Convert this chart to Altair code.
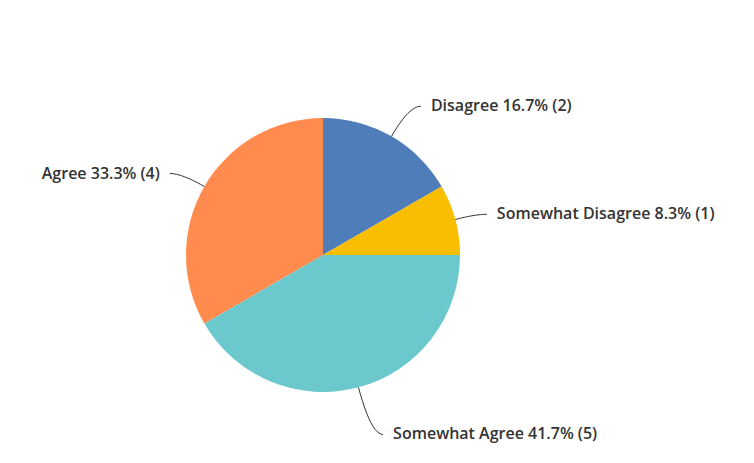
import math
import altair as alt
import pandas as pd

categories = ["Disagree", "Somewhat Disagree", "Somewhat Agree", "Agree"]
counts = [2, 1, 5, 4]
percents = ["16.7%", "8.3%", "41.7%", "33.3%"]
colors = ["#4f7dba", "#f9be00", "#6bc8cd", "#ff8b4f"]

W, H = 738, 447
CX, CY, R = 315, 247, 137

total = sum(counts)
pie = pd.DataFrame({"cat": categories, "count": counts, "order": list(range(len(categories)))})
pie["label"] = [f"{c} {p} ({n})" for c, p, n in zip(categories, percents, counts)]

# label geometry derived from the slice mid-angles
lines, texts = [], []
cum = 0
for i, (c, n) in enumerate(zip(categories, counts)):
    a = 2 * math.pi * (cum + n / 2) / total
    cum += n
    s = 1 if math.sin(a) >= 0 else -1
    def pt(r):
        return CX + r * math.sin(a), CY - r * math.cos(a)
    p0 = pt(R)
    p1 = pt(151 + 30 * abs(math.cos(a)) - 6 * math.cos(a))
    p2 = (p1[0] + s * 12, p1[1])
    for k in range(13):
        t = k / 12
        x = (1 - t) ** 2 * p0[0] + 2 * (1 - t) * t * p1[0] + t ** 2 * p2[0]
        y = (1 - t) ** 2 * p0[1] + 2 * (1 - t) * t * p1[1] + t ** 2 * p2[1]
        lines.append({"cat": c, "k": k, "x": x, "y": y})
    texts.append({"cat": c, "label": pie.loc[i, "label"], "x": p2[0] + s * 10, "y": p2[1],
                  "align": "left" if s > 0 else "right"})

lines = pd.DataFrame(lines)
texts = pd.DataFrame(texts)

xs = alt.Scale(domain=[0, W], range=[0, W])
ys = alt.Scale(domain=[0, H], range=[0, H])

arc = alt.Chart(pie).mark_arc(outerRadius=R).encode(
    theta=alt.Theta("count:Q", stack=True),
    order=alt.Order("order:Q"),
    color=alt.Color("cat:N", scale=alt.Scale(domain=categories, range=colors), legend=None),
    x=alt.value(CX), y=alt.value(CY),
)

leader = alt.Chart(lines).mark_line(color="#333333", strokeWidth=1).encode(
    x=alt.X("x:Q", scale=xs, axis=None),
    y=alt.Y("y:Q", scale=ys, axis=None),
    detail="cat:N",
    order="k:Q",
)

def label_layer(align):
    return alt.Chart(texts[texts["align"] == align]).mark_text(
        align=align, baseline="middle", font="Open Sans", fontSize=16, fontWeight=600,
        color="#333333"
    ).encode(x=alt.X("x:Q", scale=xs, axis=None), y=alt.Y("y:Q", scale=ys, axis=None), text="label:N")

chart = alt.layer(arc, leader, label_layer("left"), label_layer("right")).properties(
    width=W, height=H, padding=0, autosize=alt.AutoSizeParams(type="none"), background="white"
).configure_view(stroke=None)

chart.save("out.html", embed_options={"renderer": "svg", "actions": False})
